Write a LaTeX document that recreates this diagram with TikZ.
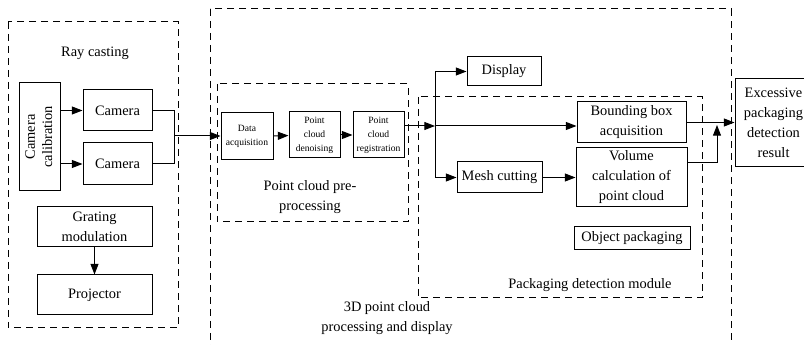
\documentclass[tikz,border=0pt]{standalone}
\usepackage{fontspec}
\setmainfont{Liberation Serif}
\usetikzlibrary{arrows.meta,calc}
\begin{document}
\begin{tikzpicture}[x=0.75pt,y=-0.75pt,
  line width=0.75pt,
  >={Triangle[length=8pt,width=6pt]},
  sz/.style 2 args={minimum width=#1*0.75pt,minimum height=#2*0.75pt},
  blk/.style={draw,rectangle,inner sep=0pt,align=center,font=\fontsize{10.8}{15}\selectfont},
  sblk/.style={blk,font=\fontsize{7.2}{10.5}\selectfont},
  grp/.style={draw,dash pattern=on 5.5pt off 3.5pt},
  lbl/.style={align=center,font=\fontsize{10.8}{15.5}\selectfont}]
\useasboundingbox (0,0) rectangle (804,345);
\clip (0,0) rectangle (804,345);

% dashed group frames
\draw[grp] (8,22) rectangle (178,328);
\draw[grp] (210,9) rectangle (731,370);
\draw[grp] (217,84) rectangle (408,222);
\draw[grp] (418,97) rectangle (702,298);

% group captions
\node[lbl] (rayl) at (95,53) {Ray casting};
\node[lbl] (prel) at (310,197) {Point cloud pre-\\processing};
\node[lbl] (procl) at (387,318) {3D point cloud\\processing and display};
\node[lbl] (packl) at (590,285) {Packaging detection module};

% ray casting blocks
\node[blk,sz={41}{108}] (calib) at (39.5,137)
  {\rotatebox{90}{\begin{tabular}{@{}c@{}}Camera\\[-2pt]calibration\end{tabular}}};
\node[blk,sz={69}{41}] (cam1) at (117.5,110.5) {Camera};
\node[blk,sz={69}{42}] (cam2) at (117.5,164) {Camera};
\node[blk,sz={115}{40}] (grating) at (94.5,227) {Grating\\modulation};
\node[blk,sz={115}{40}] (projector) at (94.5,295) {Projector};

% pre-processing blocks
\node[sblk,sz={52}{47}] (data) at (247,136.5) {Data\\acquisition};
\node[sblk,sz={51}{46}] (denoise) at (314.5,135) {Point\\cloud\\denoising};
\node[sblk,sz={51}{46}] (regist) at (378.5,135) {Point\\cloud\\registration};

% display and packaging detection blocks
\node[blk,sz={74}{29}] (display) at (504,71.5) {Display};
\node[blk,sz={109}{41}] (bbox) at (631.5,122.5) {Bounding box\\acquisition};
\node[blk,sz={111}{59}] (volume) at (631.5,177.5) {Volume\\calculation of\\point cloud};
\node[blk,sz={85}{31}] (mesh) at (499.5,177.5) {Mesh cutting};
\node[blk,sz={116}{23}] (objpack) at (632,238.5) {Object packaging};
\node[blk,sz={77}{88}] (result) at (773.5,123) {Excessive\\packaging\\detection\\result};

% connectors
\draw[->] (calib.east |- cam1) -- (cam1);
\draw[->] (calib.east |- cam2) -- (cam2);
\coordinate (m) at (174,136);
\draw (cam1.east) -| (m);
\draw (cam2.east) -| (m);
\draw[->] (m) -- (data.west |- m);
\draw[->] (grating) -- (projector);
\draw[->] (data) -- (denoise);
\draw[->] (denoise) -- (regist);
\coordinate (j) at (435,126);
\draw[->] (regist.east |- j) -- (j);
\draw[->] (j) -- (bbox.west |- j);
\draw[->] (j) |- (display);
\draw[->] (j) |- (mesh);
\draw[->] (mesh) -- (volume);
\draw[->] (bbox.east) -- (bbox.east -| result.west);
\coordinate (vo) at (687,163);
\coordinate (k) at (717,125);
\draw[->] (vo) -| (k);
\end{tikzpicture}
\end{document}
